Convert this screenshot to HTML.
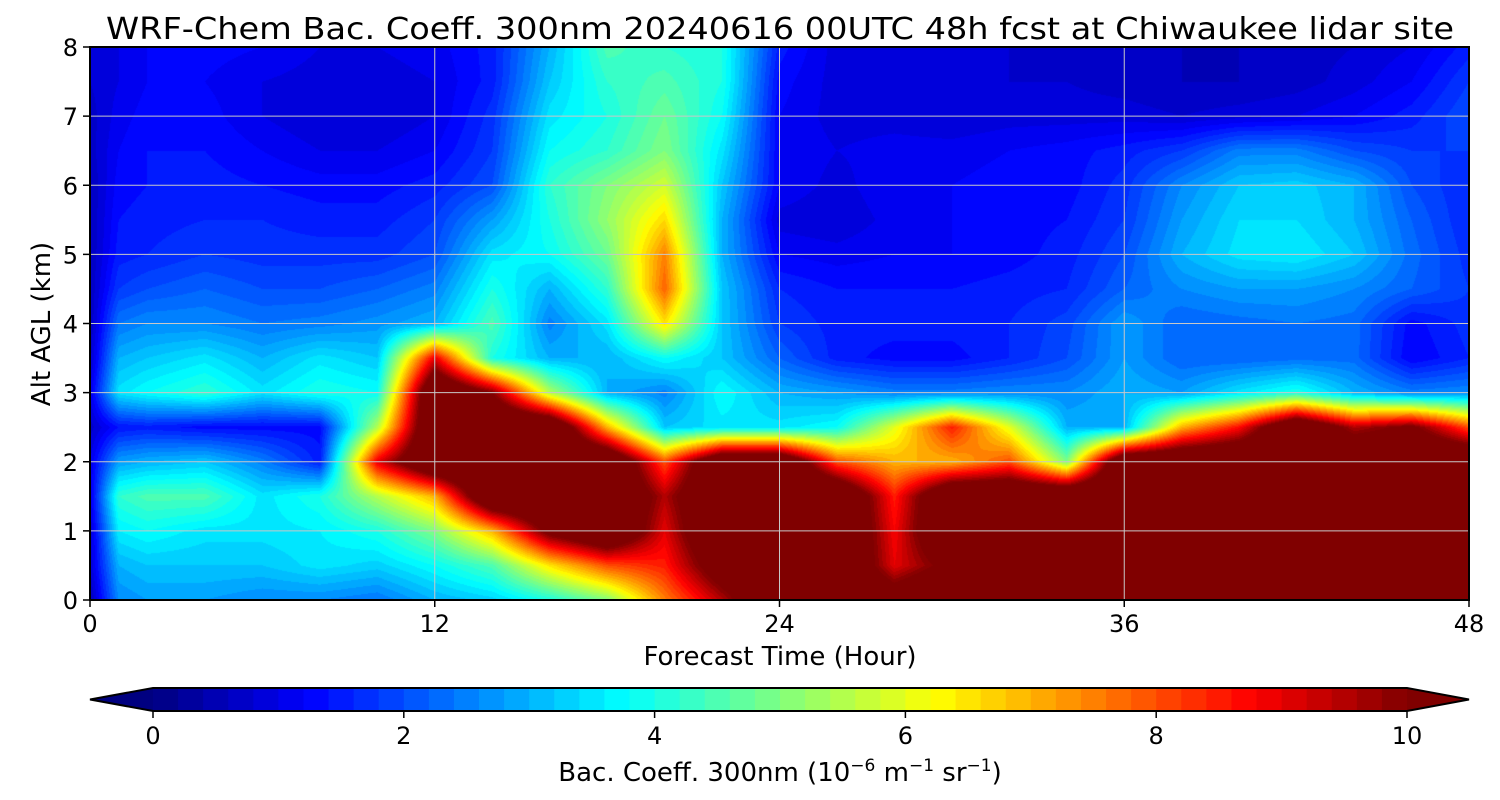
<!DOCTYPE html>
<html><head><meta charset="utf-8">
<style>
body{margin:0;background:#fff;width:1500px;height:800px;overflow:hidden;font-family:"DejaVu Sans","Liberation Sans",sans-serif;}
#wrap{position:relative;width:1500px;height:800px;}
canvas{position:absolute;left:90px;top:47px;}
svg{position:absolute;left:0;top:0;font-family:"DejaVu Sans","Liberation Sans",sans-serif;}
</style></head><body>
<div id="wrap">
<canvas id="cv" width="1379" height="553"></canvas>
<svg id="sv" width="1500" height="800"></svg>
</div>
<script>
const hours=[0,1,2,4,6,8,10,12,14,16,18,20,22,24,26,28,30,32,34,36,38,40,42,44,46,48];
const alts=[8,7.5,7,6.5,6,5.5,5,4.5,4,3.5,3,2.5,2,1.5,1,0.5,0];
const xTicks=[0,12,24,36,48];
const yTicks=[0,1,2,3,4,5,6,7,8];
const cbTicks=[0,2,4,6,8,10];
const r80=[0.8,1.0,1.2,1.3,1.2,1.0,1.0,1.1,1.5,3.0,4.5,4.2,4.0,1.5,0.9,0.9,0.8,0.8,0.7,0.7,0.6,0.6,0.7,0.8,1.0,1.5];
const r75=[0.8,1.0,1.2,1.2,1.0,0.9,0.9,1.0,1.5,3.2,4.2,4.5,4.0,1.3,0.9,0.9,0.8,0.8,0.8,0.7,0.6,0.6,0.7,0.9,1.2,1.8];
const r70=[0.7,1.1,1.3,1.3,1.0,0.8,0.8,1.0,1.7,3.5,4.0,4.8,3.8,1.2,0.9,0.9,0.8,0.9,0.9,0.9,0.8,0.9,1.0,1.2,1.5,2.0];
const r65=[0.7,1.2,1.4,1.4,1.2,1.0,1.0,1.2,1.8,3.8,4.2,5.0,3.5,1.2,1.0,1.1,1.1,1.2,1.3,1.5,1.8,2.5,2.5,2.0,1.8,1.8];
const r60=[0.6,1.3,1.4,1.5,1.4,1.3,1.3,1.5,2.0,4.2,5.0,5.8,3.2,1.2,0.9,1.2,1.2,1.3,1.3,1.7,2.6,3.2,3.3,3.0,2.0,1.6];
const r55=[0.6,1.4,1.5,1.6,1.6,1.5,1.5,1.8,2.8,4.0,5.2,6.6,3.0,0.9,0.8,1.1,1.2,1.3,1.4,1.8,2.8,3.4,3.4,3.0,2.2,1.6];
const r50=[0.6,1.5,1.6,1.8,1.7,1.7,1.7,2.0,3.5,3.8,4.8,7.5,3.0,1.2,1.1,1.2,1.2,1.3,1.5,2.0,3.0,3.5,3.6,3.2,2.3,1.7];
const r45=[0.6,1.8,2.0,2.2,2.0,2.0,2.2,2.5,4.0,3.0,4.2,7.8,3.2,1.6,1.4,1.4,1.4,1.5,1.6,2.2,2.6,2.8,2.8,2.6,2.2,1.8];
const r40=[0.6,2.4,2.6,2.6,2.4,2.5,2.7,3.0,4.5,2.5,3.5,6.5,3.2,1.8,1.5,1.5,1.5,1.6,1.9,2.8,2.2,2.3,2.4,2.3,1.3,1.7];
const r35=[0.7,3.0,3.2,3.5,3.0,3.5,3.2,9.0,4.0,3.0,3.0,3.8,3.2,2.2,1.5,1.3,1.3,1.6,2.0,2.8,2.2,2.2,2.3,2.3,1.2,1.6];
const r30=[1.0,3.5,3.8,4.2,3.5,4.0,3.8,12,10,5.5,3.0,2.5,3.8,3.0,2.8,2.5,2.5,2.6,2.6,3.0,2.8,3.5,4.0,3.0,2.5,2.6];
const r25=[0.7,1.4,1.5,1.3,1.3,1.3,5.5,12,12,12,7.0,3.2,3.5,3.5,3.8,6.0,8.5,6.0,3.0,3.0,7.0,8.7,12,9.5,10.3,8.0];
const r20=[1.0,2.8,3.0,3.2,2.5,1.5,9.0,12,12,12,12,8.0,12,12,8,7,7,8,5,12,12,12,12,12,12,12];
const r15=[1.0,4.2,4.5,4.5,3.5,4.0,5.5,7.0,12,12,12,9.5,12,12,12,8.5,12,12,12,12,12,12,12,12,12,12];
const r10=[0.8,3.6,3.8,3.5,3.5,3.6,4.0,5.0,7.0,10.5,12,9.0,12,12,12,8.8,12,12,12,12,12,12,12,12,12,12];
const r05=[0.8,3.0,3.2,3.2,3.2,3.5,3.3,3.8,4.5,6.5,8.0,8.5,11,12,12,9.0,10.5,12,12,12,12,12,12,12,12,12];
const r00=[0.5,2.6,2.8,2.8,2.6,2.6,2.4,3.0,3.3,4.0,5.0,7.5,9.5,12,12,11,12,12,12,12,12,12,12,12,12,12];
const grid=[r80,r75,r70,r65,r60,r55,r50,r45,r40,r35,r30,r25,r20,r15,r10,r05,r00];

const X0=90,X1=1469,Y0=600,Y1=47;
const xs=h=>X0+(h-0)/48*(X1-X0);
const ys=a=>Y0-(a/8)*(Y0-Y1);
function jet(v){let x=Math.max(0,Math.min(1,v/10));
 const c=t=>Math.round(255*Math.max(0,Math.min(1,t)));
 return [c(1.5-Math.abs(4*x-3)),c(1.5-Math.abs(4*x-2)),c(1.5-Math.abs(4*x-1))];}
const cv=document.getElementById('cv'),ctx=cv.getContext('2d');
const W=cv.width,H=cv.height,img=ctx.createImageData(W,H);
for(let py=0;py<H;py++){
 const a=8-(py+0.5)/H*8;
 let ri=0;while(ri<alts.length-2&&alts[ri+1]>a)ri++;
 const fy=(alts[ri]-a)/(alts[ri]-alts[ri+1]);
 for(let px=0;px<W;px++){
  const h=(px+0.5)/W*48;
  let ci=0;while(ci<hours.length-2&&hours[ci+1]<h)ci++;
  const fx=(h-hours[ci])/(hours[ci+1]-hours[ci]);
  const v=(grid[ri][ci]*(1-fx)+grid[ri][ci+1]*fx)*(1-fy)+(grid[ri+1][ci]*(1-fx)+grid[ri+1][ci+1]*fx)*fy;
  const q=Math.floor(Math.min(v,10.1)/0.2)*0.2+0.1;
  const col=v>=10?[128,0,0]:jet(q);
  const k=(py*W+px)*4;img.data[k]=col[0];img.data[k+1]=col[1];img.data[k+2]=col[2];img.data[k+3]=255;
 }}
ctx.putImageData(img,0,0);
const NS='http://www.w3.org/2000/svg',sv=document.getElementById('sv');
function el(t,at,txt){const e=document.createElementNS(NS,t);for(const k in at)e.setAttribute(k,at[k]);if(txt!==undefined)e.textContent=txt;sv.appendChild(e);return e;}
for(const t of xTicks){
 const g=el('line',{x1:xs(t),x2:xs(t),y1:Y1,y2:Y0,stroke:'#c8c8c8','stroke-width':1});
 
 const tk=el('line',{x1:xs(t),x2:xs(t),y1:Y0,y2:Y0+7,stroke:'#000','stroke-width':1.5});
 
 const l=el('text',{x:xs(t),y:Y0+32,'text-anchor':'middle','font-size':24},t);
 
}
for(const a of yTicks){
 const g=el('line',{x1:X0,x2:X1,y1:ys(a),y2:ys(a),stroke:'#c8c8c8','stroke-width':1});
 
 const tk=el('line',{x1:X0-7,x2:X0,y1:ys(a),y2:ys(a),stroke:'#000','stroke-width':1.5});
 
 const l=el('text',{x:X0-12,y:ys(a)+9,'text-anchor':'end','font-size':24},a);
 
}
const fr=el('rect',{x:X0,y:Y1,width:X1-X0,height:Y0-Y1,fill:'none',stroke:'#000','stroke-width':2});

const ti=el('text',{x:106,y:39,'font-size':30,textLength:1348,lengthAdjust:'spacingAndGlyphs'},'WRF-Chem Bac. Coeff. 300nm  20240616 00UTC 48h fcst at Chiwaukee lidar site');
ti.setAttribute('xml:space','preserve');
const xt=el('text',{x:780,y:665,'text-anchor':'middle','font-size':26},'Forecast Time (Hour)');

const yt=el('text',{x:0,y:0,'text-anchor':'middle','font-size':26,transform:'translate(50,324) rotate(-90)'},'Alt AGL (km)');

const C0=153,C1=1407,CT=688,CB=711;
const cx=v=>C0+v/10*(C1-C0);
for(let i=0;i<50;i++){
 const c=jet(i*0.2+0.1);
 const r=el('rect',{x:cx(i*0.2),y:CT,width:(C1-C0)/50+0.6,height:CB-CT,fill:`rgb(${c})`});
 
}
const lt=el('polygon',{points:`${C0},${CT} ${C0},${CB} 90,${(CT+CB)/2}`,fill:'rgb(0,0,128)'});

const rt=el('polygon',{points:`${C1},${CT} ${C1},${CB} 1469,${(CT+CB)/2}`,fill:'rgb(128,0,0)'});

const ol=el('polygon',{points:`90,${(CT+CB)/2} ${C0},${CT} ${C1},${CT} 1469,${(CT+CB)/2} ${C1},${CB} ${C0},${CB}`,fill:'none',stroke:'#000','stroke-width':2});

for(const v of cbTicks){
 const tk=el('line',{x1:cx(v),x2:cx(v),y1:CB,y2:CB+7,stroke:'#000','stroke-width':1.5});
 
 const l=el('text',{x:cx(v),y:744,'text-anchor':'middle','font-size':24},v);
 
}
const cl=el('text',{x:780,y:781,'text-anchor':'middle','font-size':26});

cl.setAttribute('xml:space','preserve');
cl.innerHTML='Bac. Coeff. 300nm  (10<tspan dy="-10" font-size="17">−6</tspan><tspan dy="10"> m</tspan><tspan dy="-10" font-size="17">−1</tspan><tspan dy="10"> sr</tspan><tspan dy="-10" font-size="17">−1</tspan><tspan dy="10">)</tspan>';
</script>
</body></html>
